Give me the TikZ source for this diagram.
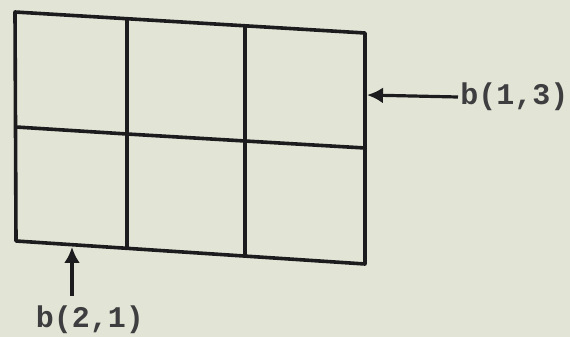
\documentclass[tikz,border=0pt]{standalone}
\usepackage{fontspec}
\setmonofont{Liberation Mono}
\usetikzlibrary{arrows.meta}
\definecolor{paper}{RGB}{226,229,213}
\definecolor{ink}{RGB}{28,28,30}
\tikzset{
  cellline/.style={draw=ink, line width=1.8pt, line cap=round, line join=round},
  pointer/.style={draw=ink, line width=1.6pt, -{Latex[length=8pt,width=8pt]}},
  cellname/.style={font=\fontsize{15}{18}\selectfont\ttfamily\bfseries, text=ink!85, inner sep=1pt}
}
\begin{document}
\begin{tikzpicture}[x=0.5pt,y=-0.5pt]
			\fill[paper] (0,0) rectangle (570,337);
			\useasboundingbox (0,0) rectangle (570,337);

			\coordinate (00) at (15, 12);
\coordinate (01) at (127, 19);
\coordinate (02) at (245, 26);
\coordinate (03) at (365, 33);
\coordinate (10) at (16, 127);
\coordinate (11) at (127, 134);
\coordinate (12) at (245, 141);
\coordinate (13) at (365, 148);
\coordinate (20) at (16, 241);
\coordinate (21) at (127, 248);
\coordinate (22) at (245, 256);
\coordinate (23) at (365, 264);

			\draw[cellline] (00) -- (03) -- (23) -- (20) -- cycle;
\draw[cellline] (10) -- (11) -- (12) -- (13);
\draw[cellline] (01) -- (11) -- (21);
\draw[cellline] (02) -- (12) -- (22);

			\coordinate (t13) at (367, 95);
\coordinate (t21) at (72, 247);
\node[cellname, anchor=west] (b13) at (458, 97) {b(1,3)};
\node[cellname] (b21) at (90, 320) {b(2,1)};

			\draw[pointer] (b13.west) -- (t13);
\draw[pointer] ([yshift=4pt]b21.north -| t21) -- (t21);

		\end{tikzpicture}
\end{document}
